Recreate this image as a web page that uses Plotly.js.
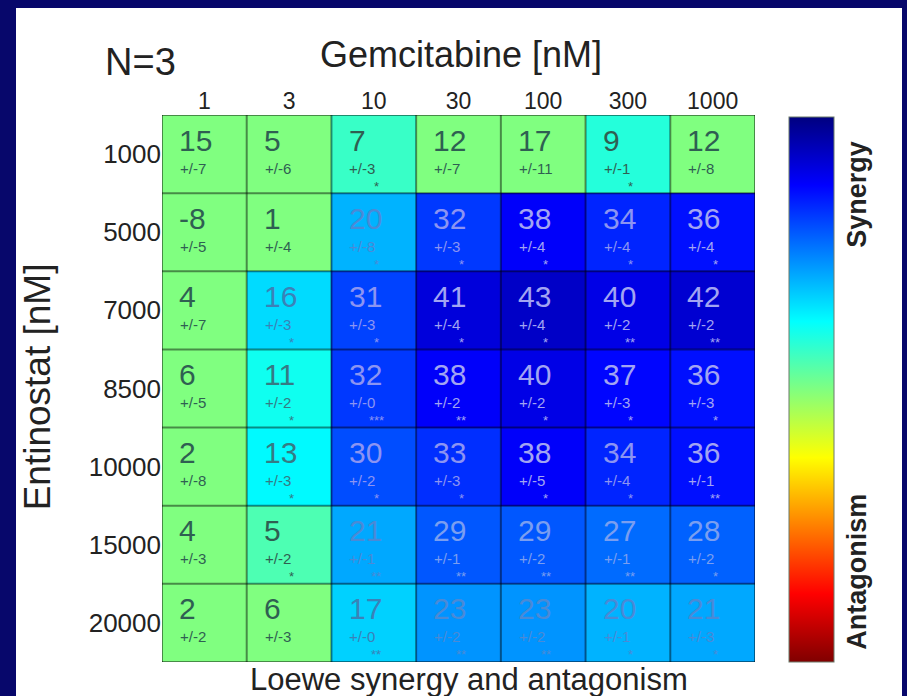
<!DOCTYPE html>
<html>
<head>
<meta charset="utf-8">
<script src="https://cdn.plot.ly/plotly-3.0.1.min.js"></script>
<style>
  html, body { margin: 0; padding: 0; background: #07076b; width: 907px; height: 696px; overflow: hidden; }
  #chart { position: absolute; left: 16px; top: 8px; width: 886px; height: 688px; }
</style>
</head>
<body>
<div id="chart"></div>
<script>
// ---- data ----
const gemcitabine = ['1', '3', '10', '30', '100', '300', '1000'];          // columns (nM)
const entinostat  = ['1000', '5000', '7000', '8500', '10000', '15000', '20000']; // rows (nM)

const synergy = [
  [15,  5,  7, 12, 17,  9, 12],
  [-8,  1, 20, 32, 38, 34, 36],
  [ 4, 16, 31, 41, 43, 40, 42],
  [ 6, 11, 32, 38, 40, 37, 36],
  [ 2, 13, 30, 33, 38, 34, 36],
  [ 4,  5, 21, 29, 29, 27, 28],
  [ 2,  6, 17, 23, 23, 20, 21]
];
const errors = [
  [7, 6, 3, 7, 11, 1, 8],
  [5, 4, 8, 3, 4, 4, 4],
  [7, 3, 3, 4, 4, 2, 2],
  [5, 2, 0, 2, 2, 3, 3],
  [8, 3, 2, 3, 5, 4, 1],
  [3, 2, 1, 1, 2, 1, 2],
  [2, 3, 0, 2, 2, 1, 3]
];
const significance = [
  ['', '', '*', '', '', '*', ''],
  ['', '', '*', '*', '*', '*', '*'],
  ['', '*', '*', '*', '*', '**', '**'],
  ['', '*', '***', '**', '*', '*', '*'],
  ['', '*', '*', '*', '*', '*', '**'],
  ['', '*', '**', '**', '**', '**', '*'],
  ['', '', '**', '**', '**', '*', '*']
];

// colour level: non-significant cells are shown as neutral (0)
const colorLevel = synergy.map((row, j) => row.map((v, i) => significance[j][i] ? v : 0));

const xIdx = gemcitabine.map((_, i) => i);
const yIdx = entinostat.map((_, j) => j);

// reversed jet: low (antagonism) = dark red, high (synergy) = dark blue
const jetRev = [
  [0.0,   'rgb(128,0,0)'],
  [0.125, 'rgb(255,0,0)'],
  [0.375, 'rgb(255,255,0)'],
  [0.5,   'rgb(128,255,128)'],
  [0.625, 'rgb(0,255,255)'],
  [0.875, 'rgb(0,0,255)'],
  [1.0,   'rgb(0,0,128)']
];

function textColor(z) {
  if (z <= 10) return '#2f5f52';
  if (z <= 14) return '#357a84';
  if (z <= 18) return '#3a82b8';
  if (z <= 24) return '#4a8ad6';
  if (z <= 29) return '#7a9ef0';
  if (z <= 34) return '#8c94f2';
  return '#a2a4f2';
}

const FONT = 'Liberation Sans, Arial, Helvetica, sans-serif';
const annotations = [];
const shapes = [];

yIdx.forEach(j => {
  xIdx.forEach(i => {
    const c = textColor(colorLevel[j][i]);
    annotations.push({
      x: i - 0.31, y: j - 0.18, xref: 'x', yref: 'y', xanchor: 'left', yanchor: 'middle', borderpad: 0,
      text: String(synergy[j][i]), showarrow: false, font: {family: FONT, size: 30, color: c}
    });
    annotations.push({
      x: i - 0.30, y: j + 0.18, xref: 'x', yref: 'y', xanchor: 'left', yanchor: 'middle', borderpad: 0,
      text: '+/-' + errors[j][i], showarrow: false, font: {family: FONT, size: 15, color: c}
    });
    if (significance[j][i]) {
      annotations.push({
        x: i + 0.03, y: j + 0.41, xref: 'x', yref: 'y', xanchor: 'center', yanchor: 'middle', borderpad: 0,
        text: significance[j][i], showarrow: false, font: {family: FONT, size: 13, color: c}
      });
    }
  });
});

// cell borders
for (let k = 0; k <= gemcitabine.length; k++) {
  shapes.push({type: 'line', xref: 'x', yref: 'y', x0: k - 0.5, x1: k - 0.5, y0: -0.5, y1: entinostat.length - 0.5,
    line: {color: 'rgba(0,0,0,0.45)', width: 2}, layer: 'above'});
}
for (let k = 0; k <= entinostat.length; k++) {
  shapes.push({type: 'line', xref: 'x', yref: 'y', y0: k - 0.5, y1: k - 0.5, x0: -0.5, x1: gemcitabine.length - 0.5,
    line: {color: 'rgba(0,0,0,0.45)', width: 2}, layer: 'above'});
}

// titles and labels
annotations.push({xref: 'paper', yref: 'paper', x: -0.037, y: 1.097, xanchor: 'center', yanchor: 'middle',
  text: 'N=3', showarrow: false, font: {family: FONT, size: 38, color: '#222'}});
annotations.push({xref: 'paper', yref: 'paper', x: 0.505, y: 1.11, xanchor: 'center', yanchor: 'middle',
  text: 'Gemcitabine [nM]', showarrow: false, font: {family: FONT, size: 36, color: '#222'}});
annotations.push({xref: 'paper', yref: 'paper', x: -0.21, y: 0.503, xanchor: 'center', yanchor: 'middle',
  text: 'Entinostat [nM]', textangle: -90, showarrow: false, font: {family: FONT, size: 37, color: '#222'}});
annotations.push({xref: 'paper', yref: 'paper', x: 0.518, y: -0.0329, xanchor: 'center', yanchor: 'middle', borderpad: 0,
  text: 'Loewe synergy and antagonism', showarrow: false, font: {family: FONT, size: 31, color: '#222'}});
annotations.push({xref: 'paper', yref: 'paper', x: 1.172, y: 0.856, xanchor: 'center', yanchor: 'middle',
  text: '<b>Synergy</b>', textangle: -90, showarrow: false, font: {family: FONT, size: 27, color: '#222'}});
annotations.push({xref: 'paper', yref: 'paper', x: 1.172, y: 0.165, xanchor: 'center', yanchor: 'middle',
  text: '<b>Antagonism</b>', textangle: -90, showarrow: false, font: {family: FONT, size: 27, color: '#222'}});

const trace = {
  type: 'heatmap',
  x: xIdx, y: yIdx, z: colorLevel,
  zmin: -50, zmax: 50,
  colorscale: jetRev,
  hoverinfo: 'skip',
  colorbar: {
    x: 1.0573, xanchor: 'left', xref: 'paper',
    y: 0.996, yanchor: 'top', len: 545, lenmode: 'pixels',
    thickness: 45, thicknessmode: 'pixels',
    xpad: 0, ypad: 0,
    outlinewidth: 1, outlinecolor: '#6a7a6a',
    showticklabels: false, ticks: ''
  }
};

const layout = {
  width: 886, height: 688,
  margin: {l: 146, r: 147, t: 107, b: 34, pad: 0},
  paper_bgcolor: '#ffffff',
  plot_bgcolor: '#ffffff',
  showlegend: false,
  xaxis: {
    side: 'top', range: [-0.5, 6.5], tickvals: xIdx, ticktext: gemcitabine,
    showgrid: false, zeroline: false, showline: false, ticks: '',
    tickfont: {family: FONT, size: 23, color: '#222'}, fixedrange: true
  },
  yaxis: {
    range: [6.5, -0.5], tickvals: yIdx, ticktext: entinostat,
    showgrid: false, zeroline: false, showline: false, ticks: '',
    tickfont: {family: FONT, size: 26, color: '#222'}, fixedrange: true
  },
  annotations: annotations,
  shapes: shapes
};

Plotly.newPlot('chart', [trace], layout, {displayModeBar: false, staticPlot: true});
</script>
</body>
</html>
